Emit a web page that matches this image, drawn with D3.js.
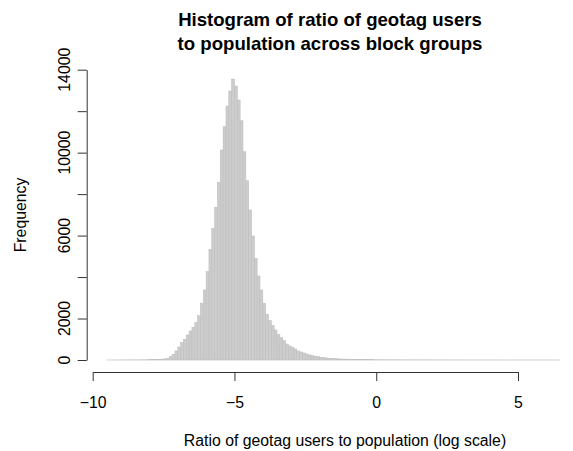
<!DOCTYPE html>
<html>
<head>
<meta charset="utf-8">
<script src="https://cdn.jsdelivr.net/npm/d3@7"></script>
<style>
  body { margin: 0; background: #fff; }
  svg { display: block; font-family: "Liberation Sans", Arial, Helvetica, sans-serif; }
</style>
</head>
<body>
<svg id="chart" width="573" height="451"></svg>
<script>
/* ---------- data ---------- */
// histogram breaks: left edge of the first bin and bin width (log ratio)
const breakStart = -9.5;
const breakStep = 0.1;

// counts per bin
const countsLeftTail = [   // -9.5 .. -7.6
  2, 1, 2, 2, 3, 3, 4, 4, 5, 6, 7, 8, 10, 12, 14, 17, 21, 26, 32, 40
];
const countsCore = [       // -7.5 .. -1.6
  55, 80, 161, 273, 434, 627, 836, 996, 1205, 1398,
  1575, 1800, 2137, 2732, 3375, 4259, 5337, 6350, 7363, 8568,
  10125, 11250, 12247, 12970, 13549, 13211, 12536, 11538, 10043, 8645,
  7232, 5979, 4903, 4050, 3375, 2732, 2202, 1897, 1656, 1446,
  1238, 1077, 932, 771, 675, 611, 530, 434, 386, 338,
  289, 241, 209, 177, 161, 129, 113, 96, 80, 70
];
const countsRightTail = [  // -1.5 .. 6.4
  62, 55, 48, 43, 38, 34, 30, 27, 25, 22,
  20, 18, 17, 15, 14, 13, 12, 11, 10, 10,
  9, 9, 8, 8, 7, 7, 7, 6, 6, 6,
  5, 5, 5, 5, 4, 4, 4, 4, 4, 3,
  3, 3, 3, 3, 3, 3, 2, 2, 2, 2,
  2, 2, 2, 2, 2, 2, 2, 1, 1, 1,
  1, 1, 1, 1, 1, 1, 1, 1, 1, 1,
  1, 1, 1, 1, 1, 1, 1, 1, 1, 1
];

const xTicks = [-10, -5, 0, 5];
const yTicks = [0, 2000, 4000, 6000, 8000, 10000, 12000, 14000];
const yTickLabels = [0, 2000, 6000, 10000, 14000];

const titleLines = ['Histogram of ratio of geotag users', 'to population across block groups'];
const xLabel = 'Ratio of geotag users to population (log scale)';
const yLabel = 'Frequency';

/* ---------- build bins ---------- */
const counts = countsLeftTail.concat(countsCore, countsRightTail);
const bins = counts.map((c, i) => {
  const x0 = +(breakStart + i * breakStep).toFixed(1);
  return { x0, x1: +(x0 + breakStep).toFixed(1), count: c };
});

/* ---------- scales ---------- */
const svg = d3.select('#chart');
const x = d3.scaleLinear().domain([-10, 5]).range([92.7, 518]);
const y = d3.scaleLinear().domain([0, 14000]).range([360, 69.7]);

/* ---------- bars ---------- */
svg.append('g')
  .selectAll('rect')
  .data(bins)
  .enter()
  .append('rect')
  .attr('x', d => x(d.x0))
  .attr('width', d => x(d.x1) - x(d.x0))
  .attr('y', d => y(d.count))
  .attr('height', d => y(0) - y(d.count))
  .attr('fill', '#cdcdcd')
  .attr('stroke', '#bebebe')
  .attr('stroke-width', 0.6);

/* ---------- axes ---------- */
const xAxis = svg.append('g')
  .attr('transform', 'translate(0,372)')
  .call(d3.axisBottom(x).tickValues(xTicks).tickSize(9).tickSizeOuter(0).tickPadding(16));
xAxis.select('.domain').attr('stroke', '#333');
xAxis.selectAll('.tick line').attr('stroke', '#333');
xAxis.selectAll('text').attr('font-size', '15.8px').attr('fill', '#000').style('font-family', 'inherit');

const yAxis = svg.append('g')
  .attr('transform', 'translate(86.7,0)')
  .call(d3.axisLeft(y).tickValues(yTicks).tickSize(9).tickSizeOuter(0).tickFormat(''));
yAxis.select('.domain').attr('stroke', '#333');
yAxis.selectAll('.tick line').attr('stroke', '#333');

svg.append('g')
  .selectAll('text')
  .data(yTickLabels)
  .enter()
  .append('text')
  .attr('transform', d => `translate(70,${y(d)}) rotate(-90)`)
  .attr('text-anchor', 'middle')
  .attr('font-size', '15.8px')
  .text(d => d);

/* ---------- titles ---------- */
svg.append('g')
  .selectAll('text')
  .data(titleLines)
  .enter()
  .append('text')
  .attr('x', 330)
  .attr('y', (d, i) => 26 + i * 24)
  .attr('text-anchor', 'middle')
  .attr('font-size', '18.6px')
  .attr('font-weight', 'bold')
  .text(d => d);

svg.append('text')
  .attr('x', 345)
  .attr('y', 446)
  .attr('text-anchor', 'middle')
  .attr('font-size', '15.8px')
  .text(xLabel);

svg.append('text')
  .attr('transform', 'translate(26,215) rotate(-90)')
  .attr('text-anchor', 'middle')
  .attr('font-size', '15.8px')
  .text(yLabel);
</script>
</body>
</html>
